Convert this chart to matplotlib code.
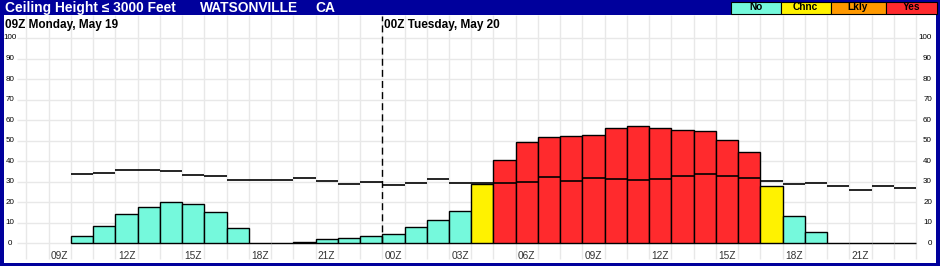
import numpy as np
import matplotlib
matplotlib.use("Agg")
import matplotlib.pyplot as plt
from matplotlib.patches import Rectangle

plt.rcParams['font.family'] = ['Liberation Sans', 'DejaVu Sans']

# hourly columns, index 0 = 09Z Monday
hour_index = np.arange(1, 39)
ceiling_pct = [3.4, 8.3, 14.1, 17.5, 20.0, 19.0, 15.1, 7.3, 0, 0,
               0.6, 2.1, 2.6, 3.6, 4.5, 8.0, 11.4, 15.7, 28.7, 40.5,
               49.3, 51.6, 52.1, 52.8, 56.0, 57.0, 56.0, 55.0, 54.5, 50.1,
               44.3, 27.7, 13.1, 5.4, 0, 0, 0, 0]
clim_pct = [33.6, 34.1, 35.6, 35.6, 35.1, 33.1, 32.6, 30.7, 30.7, 30.7,
            31.7, 30.2, 28.7, 29.7, 28.2, 29.2, 31.2, 29.2, 29.6, 29.2,
            29.7, 32.1, 30.2, 31.7, 31.2, 30.7, 31.2, 32.6, 33.7, 32.6,
            31.7, 30.3, 29.0, 29.2, 27.8, 25.8, 27.8, 26.8]
category = ['No'] * 18 + ['Chnc'] + ['Yes'] * 12 + ['Chnc'] + ['No'] * 6
tick_hours = [0, 3, 6, 9, 12, 15, 18, 21, 24, 27, 30, 33, 36]
tick_labels = ['09Z', '12Z', '15Z', '18Z', '21Z', '00Z', '03Z', '06Z',
               '09Z', '12Z', '15Z', '18Z', '21Z']
y_ticks = [0, 10, 20, 30, 40, 50, 60, 70, 80, 90, 100]
legend_names = ['No', 'Chnc', 'Lkly', 'Yes']
cat_colors = {'No': '#75F9DC', 'Chnc': '#FFF200', 'Lkly': '#FF9900', 'Yes': '#FF2A2D'}

W, H = 940, 266
fig = plt.figure(figsize=(W / 100, H / 100), dpi=100, facecolor='#00009C')


def fx(x):
    return x / W


def fy(y):
    return 1 - y / H


ax = fig.add_axes([fx(4), fy(263), (936 - 4) / W, (263 - 15) / H])
ax.set_facecolor('white')
ax.set_xlim(-2.01, 39.9)
ax.set_ylim(-9.6, 111.2)
ax.set_xticks([])
ax.set_yticks([])
for s in ax.spines.values():
    s.set_visible(False)

# grid
grid_c = '#E8E8E8'
ax.vlines(np.arange(-1, 40), -7.6, 111.2, color=grid_c, lw=1, zorder=0)
ax.hlines(y_ticks, -1.43, 39, color=grid_c, lw=1, zorder=0)

# bars + black step line
ax.bar(hour_index, ceiling_pct, width=1, align='edge',
       color=[cat_colors[c] for c in category], edgecolor='black', lw=1, zorder=2)
ax.hlines(clim_pct, hour_index, hour_index + 1, color='black', lw=1.2, zorder=3)

# day break
ax.vlines(15, 0, 110.6, color='black', lw=1, linestyles=(0, (5, 3)), zorder=3)

for t, lab in zip(tick_hours, tick_labels):
    ax.text(t + 0.5, -6.2, lab, ha='center', va='center', fontsize=7.3, color='#333333')
for v in y_ticks:
    ax.text(-1.73, v, str(v), ha='center', va='center', fontsize=5.8, color='black')
    ax.text(39.72, v, str(v), ha='right', va='center', fontsize=5.8, color='black')

ax.text(-1.97, 106.4, '09Z Monday, May 19', fontsize=8.5, fontweight='bold',
        ha='left', va='center')
ax.text(15.08, 106.4, '00Z Tuesday, May 20', fontsize=8.5, fontweight='bold',
        ha='left', va='center')

# header
fig.text(fx(5), fy(12), 'Ceiling Height \u2264 3000 Feet', color='white',
         fontsize=9.9, fontweight='bold', va='baseline')
fig.text(fx(200), fy(12), 'WATSONVILLE', color='white', fontsize=9.9,
         fontweight='bold', va='baseline')
fig.text(fx(315), fy(12), 'CA', color='white', fontsize=9.9,
         fontweight='bold', va='baseline')

box_x = [731, 780.5, 830.5, 885.5, 937]
for i, name in enumerate(legend_names):
    x0, x1 = box_x[i], box_x[i + 1]
    fig.patches.append(Rectangle((fx(x0), fy(13.5)), (x1 - x0) / W, 12 / H,
                                 transform=fig.transFigure, facecolor=cat_colors[name],
                                 edgecolor='black', lw=0.8))
    fig.text(fx((x0 + x1) / 2), fy(7.3), name, ha='center', va='center',
             fontsize=7.3, fontweight='bold', color='black')

fig.savefig('out.png', dpi=100, facecolor=fig.get_facecolor())
